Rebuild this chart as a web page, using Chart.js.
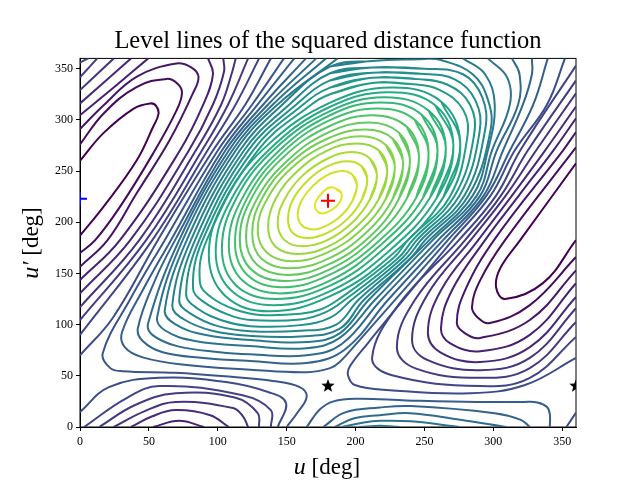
<!DOCTYPE html>
<html>
<head>
<meta charset="utf-8">
<title>Level lines</title>
<script src="https://cdn.jsdelivr.net/npm/chart.js@4/dist/chart.umd.js"></script>
<style>
body { margin: 0; background: #fff; }
</style>
</head>
<body>
<canvas id="levelChart" width="640" height="480"></canvas>
<script>
const xTicks = [0, 50, 100, 150, 200, 250, 300, 350];
const yTicks = [0, 50, 100, 150, 200, 250, 300, 350];
const chartTitle = "Level lines of the squared distance function";

const startX = [0];
const startY = [223];
const goalX = [180];
const goalY = [221];
const starX = [180, 360];
const starY = [40, 40];

// level lines as [u, u'] in degrees, lowest level first
const level01 = [
    [[0,260],[17,287],[39,311],[51,316],[55,314],[57,306],[53,293],[41,260],[17,215],[0,187]],
    [[360,257.5],[319.5,182.5],[305,155],[302,136.5],[308.5,125],[336,140.5],[360,182.5]]
];
const level02 = [
    [[0,276],[17,306],[41,332],[63,340],[71,335],[74,326],[70,309],[53,267],[29,215],[11,182.5],[0,170]],
    [[360,273],[308.5,182.5],[290.5,143.5],[284.5,117],[289,106.5],[297.5,101.5],[326.5,119],[360,166]]
];
const level03 = [
    [[0,291],[17,314],[41,342],[70,355],[81,351],[86,342],[82,326],[65,280],[41,228],[20,182.5],[0,156.5]],
    [[360,288],[350.5,270],[300.5,182.5],[279.5,133.5],[273.5,101.5],[279.5,91.5],[290.5,87],[326.5,104.5],[360,153]]
];
const level04 = [
    [[0,304.5],[24,331],[49.5,360]],
    [[93,360],[96.5,344.5],[89.5,315],[72.5,270],[29,182.5],[0,143.5]],
    [[360,301.5],[343.5,270],[318.5,226],[294,182.5],[270,133.5],[262,96.5],[268.5,82],[290.5,74],[326.5,90],[360,140.5]],
    [[53,0],[72,6],[90,0]]
];
const level05 = [
    [[0,316],[37,360]],
    [[104,360],[104.5,347],[96.5,315],[79,270],[36.5,182.5],[0,130.5]],
    [[360,313],[337.5,270],[313.5,226],[289,182.5],[262,133.5],[252.5,92.5],[261.5,73],[290.5,63.5],[326.5,78],[360,127]],
    [[37,0],[52.5,10.5],[69.5,16.5],[94.5,11.5],[108,0]]
];
const level06 = [
    [[0,329],[24.5,360]],
    [[113,360],[110.5,347],[102.5,315],[84,270],[43,182.5],[0,117]],
    [[360,326],[331,270],[309,226],[283.5,182.5],[252,129],[241,85],[252,65.5],[290.5,55.5],[326.5,67.5],[360,116]],
    [[24.5,0],[47,15.5],[69.5,24.5],[111,18.5],[118.5,10],[122,0]]
];
const level07 = [
    [[0,341.5],[12.5,360]],
    [[122,360],[107.5,315],[88.5,270],[48,182.5],[0,104.5]],
    [[360,338.5],[325,270],[305.5,226],[279.5,182.5],[243,124],[230,78],[243,57.5],[290.5,48],[326.5,57.5],[360,102.5]],
    [[14,0],[40,21.5],[69.5,33],[113,28.5],[129,13.5],[130,0]]
];
const level08 = [
    [[0,356],[6,360]],
    [[130,360],[113,315],[92.5,270],[52.5,182.5],[0,90]],
    [[360,353],[319.5,270],[302,226],[275,182.5],[231,119],[212,67.5],[226.5,50.5],[290.5,40],[326.5,48],[360,88]],
    [[3,0],[33.5,28],[57.5,40],[118,31],[138.5,16.5],[138.5,0]]
];
const level09 = [
    [[0,70],[24,107],[56.5,182.5],[96.5,270],[120,315],[138.5,360]],
    [[352,360],[339,315],[315.5,270],[298,226],[270.5,182.5],[234.5,124],[209,82],[196,59.5],[194.5,50.5],[199.5,41],[225,36],[283,33],[323,41],[360,67.5]],
    [[0,14.5],[21,39],[57.5,48],[106,44],[137,34],[149.5,23.5],[143.5,0]],
    [[360,14],[353,0]]
];
const level10 = [
    [[148,360],[125,315],[100,270],[61.5,182.5],[36.5,125],[16.5,72],[22,57.5],[31,54.5],[69,53],[110,49],[140,45],[159.5,39],[164.5,29.5],[157.5,13.5],[150,0]]
];
const level11 = [
    [[155.5,360],[129,315],[103,270],[66,182.5],[45.5,133.5],[30.5,92.5],[32.5,78],[45.5,68],[77.5,60.5],[123.5,56],[164.5,53.5],[181.5,57.5],[188.5,63.5],[201,82],[228.5,124],[267,182.5],[295,226],[312,270],[329,315],[339.5,360]],
    [[164.5,0],[174,17],[184,25],[201,27.5],[237,26],[288,24.5],[322,24.5],[332,24],[339,19.5],[341,12.5],[341,0]]
];
const level12 = [
    [[164,360],[133,315],[105.5,270],[69,182.5],[54.5,143.5],[42,96.5],[45.5,84],[60,73],[89.5,67.5],[123.5,64.5],[164.5,62.5],[192.5,76],[223.5,124],[263.5,182.5],[293,226],[307,270],[321.5,315],[328,344.5],[328,360]],
    [[176.5,0],[192,14],[217.5,19],[240,20.5],[301,13.5],[320,7],[326.5,0]]
];
const level13 = [
    [[171.5,360],[136.5,315],[108,270],[72,182.5],[49.5,101.5],[52.5,90],[70.5,79],[101.5,73],[123.5,71],[164.5,70],[190,81],[218.5,124],[260,182.5],[290.5,226],[302.5,270],[318,315],[319,344.5],[313.5,360]],
    [[185,0],[199,8.5],[217.5,11.5],[239.5,13.5],[276,7],[309.5,0]]
];
const level14 = [
    [[178.5,360],[140,315],[110.5,270],[74.5,182.5],[56,107.5],[61.5,94.5],[83.5,84],[123.5,79],[164.5,77],[188.5,87],[214,124],[256,182.5],[288,226],[299,270],[312,315],[310,341.5],[296,360]],
    [[190,0],[206,4.5],[218,6],[240,5.5],[275.5,0]]
];
const level15 = [
    [[187,360],[143.5,315],[113,270],[77.5,182.5],[61.5,114],[69,100.5],[90.5,90],[123.5,85],[165,83],[188.5,91.5],[209.5,124],[253.5,182.5],[285,226],[296,270],[301,315],[294,344.5],[278,360]],
    [[203,0],[218,1.2],[232,0]]
];
const level16 = [[[212,357.5],[250,359.5],[262,358.5],[285,344.5],[296,320],[298,290],[282,226],[250.5,182.5],[240,165],[206,124],[188,95.5],[160,88.5],[123.5,89],[96,94],[75,105.5],[67,119],[80.5,182.5],[116,270],[147,315],[181.5,352],[212,357.5]]];
const level17 = [[[212,351],[250,350],[278,344.5],[292,322],[294,290],[279,226],[247.5,182.5],[237,165],[202,124],[186,100],[160,94],[123.5,93.5],[100,98.5],[80,111],[72,124],[83.5,182.5],[119,270],[152,315],[181.5,345.5],[212,351]]];
const level18 = [[[212,346],[247,345],[272,339.5],[287,319],[290,288],[275.5,226],[244.5,182.5],[234,165],[197,124],[182,107],[160,99.5],[123.5,98.5],[104.5,103.5],[85,116],[77,130],[86.5,182.5],[122,270],[157,315],[181.5,338.5],[212,346]]];
const level19 = [[[212,341],[243,340],[266.5,334.5],[283,315],[286,285],[272,226],[241.5,182.5],[231,165],[192,124],[178,112],[160,105],[123.5,104.5],[108,109.5],[90,122],[82,135.5],[89,182.5],[125.5,270],[162,315],[181.5,331.5],[212,341]]];
const level20 = [[[212,336],[240,335],[260.5,329.5],[278,310],[281,282],[268,224],[238,182.5],[227.5,165],[187,124],[175,115],[160,110.5],[130.5,109.5],[112,115],[95,127],[87,141.5],[92,182.5],[129,270],[168,315],[181.5,325],[212,336]]];
const level21 = [[[276,277],[262,318],[226,331.5],[182,317],[137.5,277],[105.5,222.5],[93.5,168],[105.5,128],[137.5,113],[182,128],[226,168],[264,225],[276,277]]];
const level22 = [[[271,275],[258,314],[223.5,327],[182,313],[140.5,275],[110,223],[98.5,171],[110,133],[140.5,119],[182,133],[223.5,171],[259,224],[271,275]]];
const level23 = [[[265.5,272.5],[253,309],[220.5,322],[181.5,308.5],[142,272.5],[113.5,223.5],[103,174],[113.5,138],[142,125],[181.5,138],[220.5,174],[254,224],[265.5,272.5]]];
const level24 = [[[259.5,270.5],[248,305],[218,317],[181.5,304.5],[145,270.5],[118,224],[108,177.5],[118,143],[145,130.5],[181.5,143],[218,177.5],[249,224],[259.5,270.5]]];
const level25 = [[[253,267.5],[243,300],[215.5,311],[181,299.5],[146.5,267.5],[121.5,224],[112.5,180],[121.5,148.5],[146.5,136.5],[181,148.5],[215.5,180],[244,224],[253,267.5]]];
const level26 = [[[246,264],[237,293.5],[212.5,304.5],[180.5,293.5],[148,264],[124.5,223.5],[116,183],[124.5,153.5],[148,142.5],[180.5,153.5],[212.5,183],[237.5,224],[246,264]]];
const level27 = [[[239.5,260],[231.5,287.5],[210,297.5],[180,287.5],[150.5,260],[128.5,223],[120.5,185.5],[128.5,158.5],[150.5,148.5],[180,158.5],[210,185.5],[231.5,223],[239.5,260]]];
const level28 = [[[234.5,257],[227,281.5],[207,290.5],[179.5,281.5],[152,257],[132,223],[125,189],[132,164],[152,155],[179.5,164],[207,189],[227,223],[234.5,257]]];
const level29 = [[[228.5,253.5],[222,275.5],[204,284],[179,275.5],[154,253.5],[136,223],[129,192.5],[136,170],[154,162],[179,170],[204,192.5],[222,223],[228.5,253.5]]];
const level30 = [[[223,250],[217,270],[201,277],[179.5,270],[158,250],[142,223],[136.5,196],[142,176],[158,169],[179.5,176],[201,196],[217,223],[223,250]]];
const level31 = [[[215.5,245.5],[210.5,262],[197.5,268.5],[179.5,262],[161.5,245.5],[148.5,222.5],[143.5,199.5],[148.5,182.5],[161.5,176.5],[179.5,182.5],[197.5,199.5],[210.5,222.5],[215.5,245.5]]];
const level32 = [[[208.5,241],[204.5,254.5],[194,259.5],[179.5,254.5],[165.5,241],[154.5,222],[151,203],[154.5,189.5],[165.5,184.5],[179.5,189.5],[194,203],[204.5,222],[208.5,241]]];
const level33 = [[[201,235.5],[198,246],[190.5,250],[179.5,246],[169,235.5],[161,221.5],[158,207.5],[161,197],[169,193],[179.5,197],[190.5,207.5],[198,221.5],[201,235.5]]];
const level34 = [[[183.5,234],[189.5,229],[188.5,219.5],[181.5,211],[174,209],[170.5,216.5],[174,226],[179.5,233],[183.5,234]]];

const levels = [
    level01, level02, level03, level04, level05, level06, level07, level08, level09, level10,
    level11, level12, level13, level14, level15, level16, level17, level18, level19, level20,
    level21, level22, level23, level24, level25, level26, level27, level28, level29, level30,
    level31, level32, level33, level34
];

// viridis stops, every 0.1
const viridis = ["#440154", "#482475", "#414487", "#355f8d", "#2a788e", "#21918c", "#22a884", "#44bf70", "#7ad151", "#bddf26", "#fde725"];

function levelColor(t) {
    const pos = t * (viridis.length - 1);
    const i = Math.min(Math.floor(pos), viridis.length - 2);
    const a = parseInt(viridis[i].slice(1), 16);
    const b = parseInt(viridis[i + 1].slice(1), 16);
    const f = pos - i;
    const mix = (shift) => {
        const ca = (a >> shift) & 255;
        const cb = (b >> shift) & 255;
        return Math.round(ca + (cb - ca) * f);
    };
    return `rgb(${mix(16)},${mix(8)},${mix(0)})`;
}

function makeStar(size) {
    const c = document.createElement("canvas");
    c.width = size;
    c.height = size;
    const ctx = c.getContext("2d");
    const mid = size / 2;
    ctx.beginPath();
    for (let i = 0; i < 10; i++) {
        const r = i % 2 === 0 ? mid : mid * 0.42;
        const a = -Math.PI / 2 + i * Math.PI / 5;
        ctx.lineTo(mid + r * Math.cos(a), mid + r * Math.sin(a));
    }
    ctx.closePath();
    ctx.fillStyle = "#000";
    ctx.fill();
    return c;
}

// a closed line gets its neighbours on both ends so the spline has no cusp at the seam
function pieceData(piece) {
    const n = piece.length;
    const closed = piece[0][0] === piece[n - 1][0] && piece[0][1] === piece[n - 1][1];
    const pts = closed ? [piece[n - 2], ...piece, piece[1]] : piece;
    return pts.map((p) => ({ x: p[0], y: p[1] }));
}

const datasets = [];
levels.forEach((level, i) => {
    const color = levelColor(i / (levels.length - 1) * 0.96);
    level.forEach((piece) => {
        datasets.push({
            type: "scatter",
            data: pieceData(piece),
            showLine: true,
            borderColor: color,
            borderWidth: 2,
            tension: 0.4,
            pointRadius: 0,
            clip: 0
        });
    });
});

function markerData(xs, ys) {
    return xs.map((x, i) => ({ x: x, y: ys[i] }));
}

datasets.push({
    type: "scatter",
    data: markerData(starX, starY),
    pointStyle: makeStar(14),
    pointRadius: 7,
    clip: 0
});
datasets.push({
    type: "scatter",
    data: markerData(goalX, goalY),
    pointStyle: "cross",
    pointRadius: 7,
    pointBorderWidth: 2,
    pointBorderColor: "#ff0000",
    clip: 0
});
datasets.push({
    type: "scatter",
    data: markerData(startX, startY),
    pointStyle: "cross",
    pointRadius: 7,
    pointBorderWidth: 2,
    pointBorderColor: "#0000ff",
    clip: 0
});

// frame under the lines, then the axis labels with their italic letter
const framePlugin = {
    id: "frame",
    beforeDatasetsDraw(chart) {
        const ctx = chart.ctx;
        const area = chart.chartArea;
        ctx.save();
        ctx.strokeStyle = "#000";
        ctx.lineWidth = 1;
        ctx.strokeRect(area.left, area.top, area.right - area.left, area.bottom - area.top);
        ctx.restore();
    },
    afterDraw(chart) {
        const ctx = chart.ctx;
        ctx.save();
        ctx.fillStyle = "#000";
        ctx.textBaseline = "alphabetic";
        const italic = "italic 24px 'Liberation Serif'";
        const plain = "23px 'Liberation Serif'";

        ctx.font = italic;
        const uWide = ctx.measureText("u").width;
        ctx.font = plain;
        const restWide = ctx.measureText(" [deg]").width;
        let x = 327 - (uWide + restWide) / 2;
        ctx.font = italic;
        ctx.fillText("u", x, 474);
        ctx.font = plain;
        ctx.fillText(" [deg]", x + uWide, 474);

        ctx.translate(38, 243);
        ctx.rotate(-Math.PI / 2);
        ctx.font = italic;
        const primeWide = ctx.measureText("u′").width;
        x = -(primeWide + restWide) / 2;
        ctx.fillText("u′", x, 0);
        ctx.font = plain;
        ctx.fillText(" [deg]", x + primeWide, 0);
        ctx.restore();
    }
};

new Chart(document.getElementById("levelChart"), {
    data: { datasets: datasets },
    plugins: [framePlugin],
    options: {
        responsive: false,
        animation: false,
        devicePixelRatio: 1,
        layout: { padding: { left: 0, right: 64, top: 0, bottom: 0 } },
        plugins: {
            legend: { display: false },
            tooltip: { enabled: false },
            title: {
                display: true,
                fullSize: false,
                text: chartTitle,
                color: "#000",
                font: { family: "'Liberation Serif'", size: 24.5, weight: "normal" },
                padding: { top: 27, bottom: 2 }
            }
        },
        scales: {
            x: {
                type: "linear",
                min: 0,
                max: 360,
                afterBuildTicks(scale) { scale.ticks = xTicks.map((v) => ({ value: v })); },
                afterFit(scale) { scale.height = 53; },
                grid: { drawOnChartArea: false, tickLength: 4, tickColor: "#000" },
                border: { color: "#000" },
                ticks: {
                    color: "#000",
                    padding: 4,
                    maxRotation: 0,
                    autoSkip: false,
                    font: { family: "'Liberation Serif'", size: 12 }
                }
            },
            y: {
                type: "linear",
                min: 0,
                max: 360,
                afterBuildTicks(scale) { scale.ticks = yTicks.map((v) => ({ value: v })); },
                afterFit(scale) { scale.width = 80; },
                grid: { drawOnChartArea: false, tickLength: 4, tickColor: "#000" },
                border: { color: "#000" },
                ticks: {
                    color: "#000",
                    padding: 3,
                    autoSkip: false,
                    font: { family: "'Liberation Serif'", size: 12 }
                }
            }
        }
    }
});
</script>
</body>
</html>
